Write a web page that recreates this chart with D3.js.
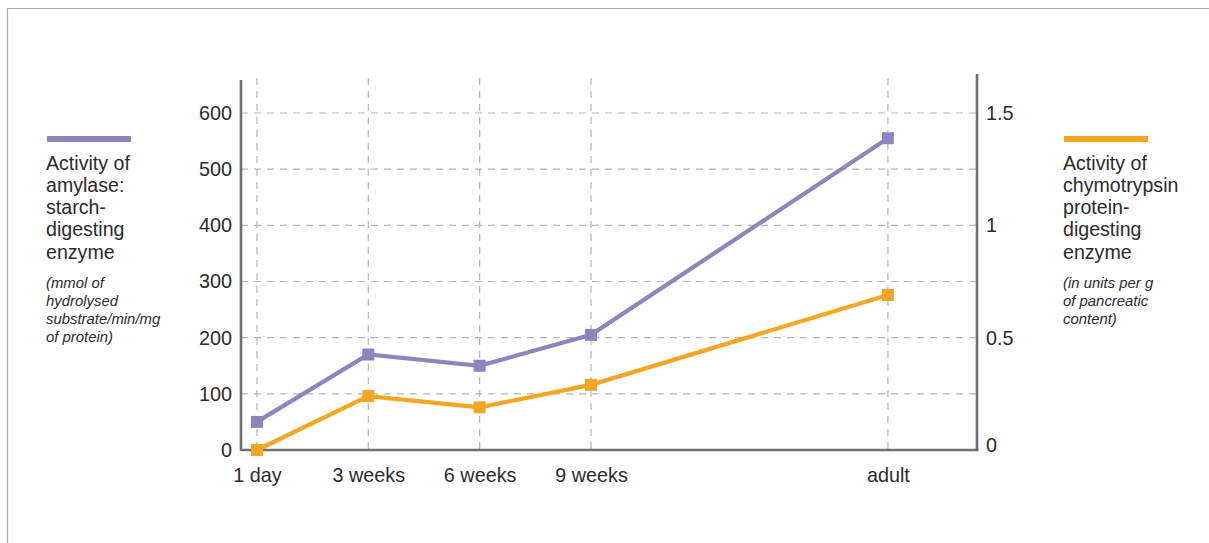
<!DOCTYPE html>
<html>
<head>
<meta charset="utf-8">
<script src="https://cdn.jsdelivr.net/npm/d3@7"></script>
<style>
  body { margin: 0; background: #fff; }
  svg { font-family: "Liberation Sans", Arial, Helvetica, sans-serif; display: block; }
</style>
</head>
<body>
<div id="chart"></div>
<script>
// set the dimensions of the graph
var width = 1209;
var height = 543;

// data
var ages = ["1 day", "3 weeks", "6 weeks", "9 weeks", "adult"];
var ageWeeks = [0, 3, 6, 9, 17]; // position along the time axis
var amylase = [50, 170, 150, 205, 555];
var chymotrypsin = [0, 0.24, 0.19, 0.29, 0.69];
var leftTicks = [0, 100, 200, 300, 400, 500, 600];
var rightTicks = [0, 0.5, 1, 1.5];

var purple = "#8c86c0";
var orange = "#f6a623";
var axisGrey = "#707073";
var gridGrey = "#b5b5b5";

var svg = d3.select("#chart")
  .append("svg")
    .attr("width", width)
    .attr("height", height);

// frame
svg.append("path")
  .attr("d", "M7.5," + height + "V8.5H" + width)
  .attr("fill", "none")
  .attr("stroke", "#a7a7a7")
  .attr("stroke-width", 1.2);

var plot = { left: 241, right: 977, top: 78, bottom: 450 };

var x = d3.scaleLinear()
  .domain([-0.43, 19.4])
  .range([plot.left, plot.right]);

var yLeft = d3.scaleLinear()
  .domain([0, 600])
  .range([plot.bottom, 113]);

var yRight = d3.scaleLinear()
  .domain([0, 1.5])
  .range([plot.bottom, 113]);

// gridlines
var grid = svg.append("g").attr("stroke", gridGrey).attr("stroke-width", 1.2)
  .attr("stroke-dasharray", "7,6");

grid.selectAll(".hgrid")
  .data(leftTicks.filter(function(d) { return d > 0; }))
  .enter()
  .append("line")
    .attr("x1", plot.left)
    .attr("x2", plot.right)
    .attr("y1", function(d) { return yLeft(d); })
    .attr("y2", function(d) { return yLeft(d); });

grid.selectAll(".vgrid")
  .data(ageWeeks)
  .enter()
  .append("line")
    .attr("x1", function(d) { return x(d); })
    .attr("x2", function(d) { return x(d); })
    .attr("y1", plot.top)
    .attr("y2", plot.bottom);

// axes
var leftAxis = svg.append("g")
  .attr("transform", "translate(" + plot.left + ",0)")
  .call(d3.axisLeft(yLeft).tickValues(leftTicks).tickSize(0).tickPadding(9));

var rightAxis = svg.append("g")
  .attr("transform", "translate(" + plot.right + ",0)")
  .call(d3.axisRight(yRight).tickValues(rightTicks).tickSize(0).tickPadding(9)
    .tickFormat(function(d) { return d; }));

var bottomAxis = svg.append("g")
  .attr("transform", "translate(0," + plot.bottom + ")")
  .call(d3.axisBottom(x).tickValues(ageWeeks).tickSize(0).tickPadding(18)
    .tickFormat(function(d, i) { return ages[i]; }));

[leftAxis, rightAxis, bottomAxis].forEach(function(a) {
  a.select(".domain").remove();
  a.selectAll("text")
    .attr("font-size", 19.8)
    .attr("fill", "#2b2b2b")
    .style("font-family", "'Liberation Sans', Arial, sans-serif");
});

// the right 0 label sits a little lower, at the axis corner
rightAxis.selectAll(".tick").filter(function(d) { return d === 0; })
  .select("text").attr("dy", "0.1em");

// axis frame lines
svg.append("line")
  .attr("x1", plot.left).attr("x2", plot.left)
  .attr("y1", 80).attr("y2", plot.bottom + 1)
  .attr("stroke", axisGrey).attr("stroke-width", 2.6);
svg.append("line")
  .attr("x1", plot.right).attr("x2", plot.right)
  .attr("y1", 74).attr("y2", plot.bottom + 1)
  .attr("stroke", axisGrey).attr("stroke-width", 2.6);
svg.append("line")
  .attr("x1", plot.left).attr("x2", plot.right + 1.3)
  .attr("y1", plot.bottom).attr("y2", plot.bottom)
  .attr("stroke", axisGrey).attr("stroke-width", 2.6);

// series
function drawSeries(values, yScale, color) {
  var line = d3.line()
    .x(function(d, i) { return x(ageWeeks[i]); })
    .y(function(d) { return yScale(d); });

  svg.append("path")
    .datum(values)
    .attr("fill", "none")
    .attr("stroke", color)
    .attr("stroke-width", 4.2)
    .attr("d", line);

  svg.append("g")
    .selectAll("rect")
    .data(values)
    .enter()
    .append("rect")
      .attr("x", function(d, i) { return x(ageWeeks[i]) - 6; })
      .attr("y", function(d) { return yScale(d) - 6; })
      .attr("width", 12)
      .attr("height", 12)
      .attr("fill", color);
}

drawSeries(amylase, yLeft, purple);
drawSeries(chymotrypsin, yRight, orange);

// legends
function legend(xPos, color, titleLines, unitLines) {
  var g = svg.append("g").attr("transform", "translate(" + xPos + ",0)");
  g.append("rect")
    .attr("x", 1).attr("y", 136)
    .attr("width", 84).attr("height", 6)
    .attr("fill", color);
  g.selectAll(".title")
    .data(titleLines)
    .enter()
    .append("text")
      .attr("x", 0)
      .attr("y", function(d, i) { return 169.5 + i * 22.3; })
      .attr("font-size", 19.6)
      .attr("fill", "#2b2b2b")
      .text(function(d) { return d; });
  g.selectAll(".unit")
    .data(unitLines)
    .enter()
    .append("text")
      .attr("x", 0)
      .attr("y", function(d, i) { return 288 + i * 18; })
      .attr("font-size", 14.9)
      .attr("font-style", "italic")
      .attr("fill", "#2b2b2b")
      .text(function(d) { return d; });
}

legend(46, purple,
  ["Activity of", "amylase:", "starch-", "digesting", "enzyme"],
  ["(mmol of", "hydrolysed", "substrate/min/mg", "of protein)"]);

legend(1063, orange,
  ["Activity of", "chymotrypsin", "protein-", "digesting", "enzyme"],
  ["(in units per g", "of pancreatic", "content)"]);
</script>
</body>
</html>
